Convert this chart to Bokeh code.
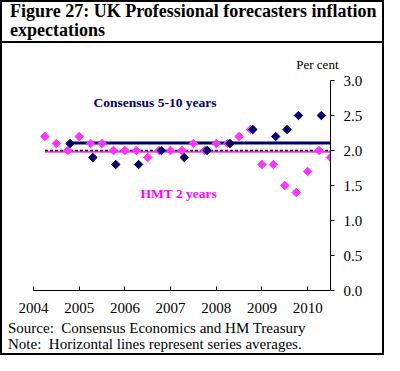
import numpy as np
from bokeh.plotting import figure
from bokeh.layouts import column
from bokeh.models import Range1d, FixedTicker, PrintfTickFormatter, Label, Div
from bokeh.embed import file_html
from bokeh.resources import INLINE

# ---- data ----
hmt_dates = [2004.25, 2004.5, 2004.75, 2005.0, 2005.25, 2005.5, 2005.75, 2006.0, 2006.25,
             2006.5, 2006.75, 2007.0, 2007.25, 2007.5, 2007.75, 2008.0, 2008.25, 2008.5,
             2008.75, 2009.0, 2009.25, 2009.5, 2009.75, 2010.0, 2010.25, 2010.5]
hmt_values = [2.2, 2.1, 2.0, 2.2, 2.1, 2.1, 2.0, 2.0, 2.0,
              1.9, 2.0, 2.0, 2.0, 2.1, 2.0, 2.1, 2.1, 2.2,
              2.3, 1.8, 1.8, 1.5, 1.4, 1.7, 2.0, 1.9]
consensus_dates = [2004.8, 2005.3, 2005.8, 2006.3, 2006.8, 2007.3, 2007.8, 2008.3,
                   2008.8, 2009.3, 2009.55, 2009.8, 2010.3]
consensus_values = [2.1, 1.9, 1.8, 1.8, 2.0, 1.9, 2.0, 2.1,
                    2.3, 2.2, 2.3, 2.5, 2.5]
target = 2.0
year_ticks = [2004, 2005, 2006, 2007, 2008, 2009, 2010]
value_ticks = [0.0, 0.5, 1.0, 1.5, 2.0, 2.5, 3.0]
x_start, x_end = 2004.0, 2010.5
y_start, y_end = 0.0, 3.0

title_lines = ["Figure 27: UK Professional forecasters inflation", "expectations"]
note_lines = ["Source:&nbsp; Consensus Economics and HM Treasury",
              "Note:&nbsp; Horizontal lines represent series averages."]

NAVY = "#000066"
PINK = "#ff33ff"
MAGENTA = "#ff00ff"
SERIF = "Liberation Serif"

INNER_W = 380

title_div = Div(
    text=('<div style="width:380px;height:41px;border-bottom:2px solid black;'
          'font-family:\'Liberation Serif\';font-weight:bold;font-size:18px;line-height:19px;'
          'color:black;padding:0 0 0 8px;box-sizing:border-box;white-space:nowrap;">'
          + "<br>".join(title_lines) + "</div>"),
    width=INNER_W, height=41, margin=0)

note_div = Div(
    text=('<div style="width:380px;font-family:\'Liberation Serif\';font-size:15px;'
          'line-height:16px;color:black;padding:0 0 0 6px;white-space:nowrap;">'
          + "<br>".join(note_lines) + "</div>"),
    width=INNER_W, height=33, margin=0)

p = figure(width=INNER_W, height=277, output_backend="svg", toolbar_location=None,
           x_range=Range1d(x_start, x_end), y_range=Range1d(y_start, y_end),
           x_axis_location="below", y_axis_location="right",
           min_border_left=31, min_border_right=52, min_border_top=37, min_border_bottom=30,
           margin=0)
p.outline_line_color = None
p.xgrid.grid_line_color = None
p.ygrid.grid_line_color = None
p.background_fill_color = "white"
p.border_fill_color = "white"

p.title.text = "Per cent"
p.title.align = "right"
p.title.offset = -8
p.title.standoff = 18
p.title.text_font = SERIF
p.title.text_font_size = "13px"
p.title.text_font_style = "normal"
p.title.text_color = "black"

xa = p.xaxis[0]
xa.ticker = FixedTicker(ticks=year_ticks)
xa.major_tick_in = 4
xa.major_tick_out = 0
xa.minor_tick_line_color = None
xa.axis_line_color = "black"
xa.major_label_text_font = SERIF
xa.major_label_text_font_size = "15px"
xa.major_label_text_color = "black"
xa.major_label_standoff = 12

ya = p.yaxis[0]
ya.ticker = FixedTicker(ticks=value_ticks)
ya.formatter = PrintfTickFormatter(format="%.1f")
ya.major_tick_in = 0
ya.major_tick_out = 4
ya.minor_tick_line_color = None
ya.axis_line_color = "black"
ya.major_label_text_font = SERIF
ya.major_label_text_font_size = "15px"
ya.major_label_text_color = "black"
ya.major_label_standoff = 9

# averages and target
hmt_mean = float(np.mean(hmt_values))
cons_mean = float(np.mean(consensus_values))
p.line([consensus_dates[0], x_end], [cons_mean, cons_mean], line_color=NAVY, line_width=3)
p.line([hmt_dates[0], x_end], [hmt_mean, hmt_mean], line_color=PINK, line_width=2)
p.line([hmt_dates[0], x_end], [target, target], line_color="black", line_width=1.5, line_dash="3 2")

p.scatter(hmt_dates, hmt_values, marker="square", size=6, angle=np.pi / 4,
          fill_color=PINK, line_color=PINK)
p.scatter(consensus_dates, consensus_values, marker="square", size=6, angle=np.pi / 4,
          fill_color=NAVY, line_color=NAVY)

# series labels
p.add_layout(Label(x=2006.66, y=2.69, text="Consensus 5-10 years", text_align="center",
                   text_baseline="middle", text_font=SERIF, text_font_style="bold",
                   text_font_size="13.5px", text_color=NAVY))
p.add_layout(Label(x=2007.18, y=1.38, text="HMT 2 years", text_align="center",
                   text_baseline="middle", text_font=SERIF, text_font_style="bold",
                   text_font_size="13.5px", text_color=MAGENTA))

layout = column(title_div, p, note_div, spacing=0,
                styles={"border": "2px solid black", "background-color": "white"})

open("out.html", "w").write(file_html(layout, INLINE))
